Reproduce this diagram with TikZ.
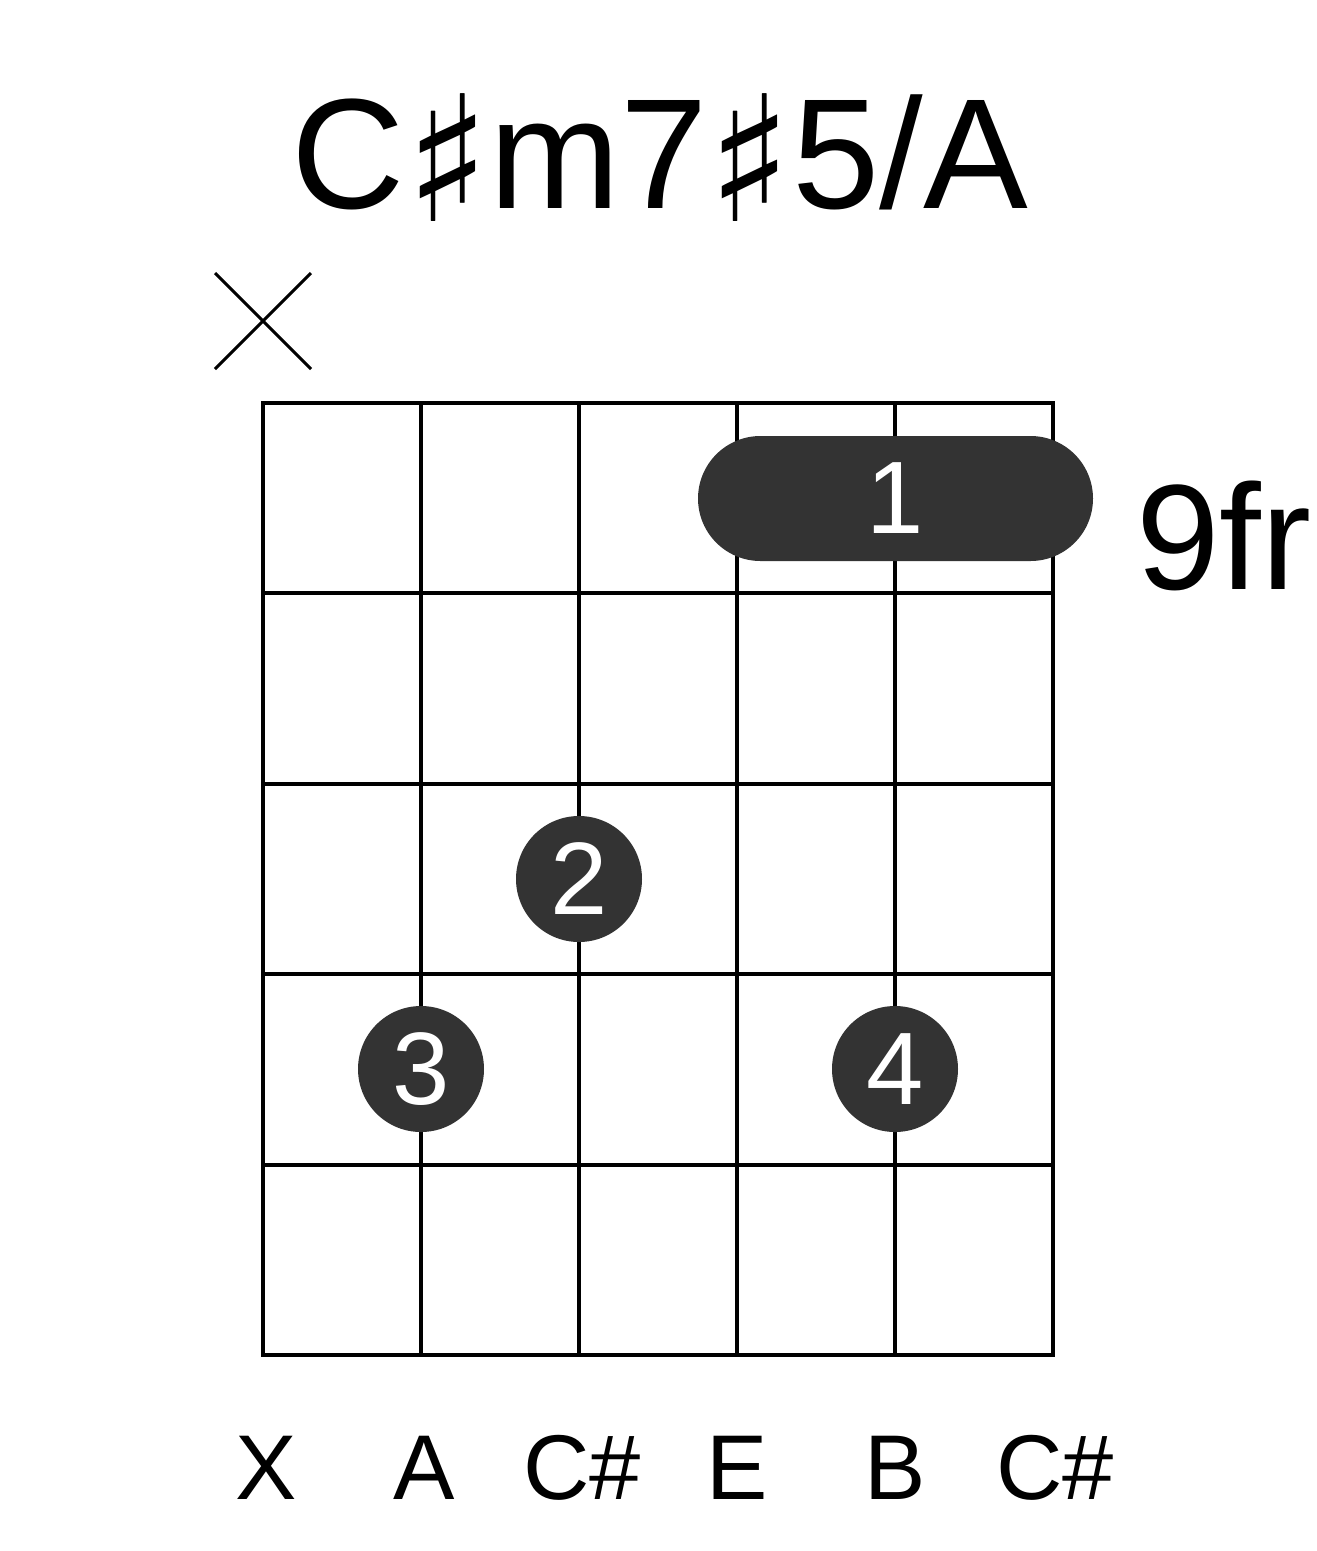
\documentclass[tikz,border=0pt]{standalone}
\usepackage{fontspec}
\setmainfont{Liberation Sans}
\newfontfamily\symfont{DejaVu Sans}
\definecolor{dotgray}{HTML}{333333}
\newcommand{\shp}{\raisebox{-13pt}{\symfont\fontsize{175}{175}\selectfont ♯}}
\begin{document}
\begin{tikzpicture}[x=1pt,y=-1pt,
  gridline/.style={line width=4pt,line cap=rect},
  fingerdot/.style={circle,fill=dotgray,minimum size=126pt,inner sep=0pt,text=white,font=\fontsize{103}{103}\selectfont},
  strlabel/.style={anchor=base,font=\fontsize{92}{92}\selectfont},
  bigtext/.style={anchor=base,font=\fontsize{157}{157}\selectfont}]
\useasboundingbox (0,0) rectangle (1317,1551);
% title
\node[bigtext] (title) at (660,208) {C\shp m7\shp 5/A};
% muted mark
\draw[line width=3pt] (215,273) -- (311,369) (311,273) -- (215,369);
% grid
\foreach \i in {0,...,5} {
  \draw[gridline] (263+158*\i,403) -- (263+158*\i,1355);
}
\foreach \j in {0,...,5} {
  \draw[gridline] (263,403+190.4*\j) -- (1053,403+190.4*\j);
}
% barre
\fill[dotgray,rounded corners=62.5pt] (698,436) rectangle (1093,561);
\node[text=white,font=\fontsize{103}{103}\selectfont] (barre) at (895,498.5) {1};
% fret number
\node[bigtext,anchor=base west,font=\fontsize{150}{150}\selectfont] (fr) at (1133,589) {9fr};
% finger dots
\node[fingerdot] (d2) at (579,879) {2};
\node[fingerdot] (d3) at (421,1069) {3};
\node[fingerdot] (d4) at (895,1069) {4};
% string labels
\node[strlabel] (s1) at (266,1499) {X};
\node[strlabel] (s2) at (424,1499) {A};
\node[strlabel] (s3) at (582,1499) {C\#};
\node[strlabel] (s4) at (737,1499) {E};
\node[strlabel] (s5) at (895,1499) {B};
\node[strlabel] (s6) at (1055,1499) {C\#};
\end{tikzpicture}
\end{document}
